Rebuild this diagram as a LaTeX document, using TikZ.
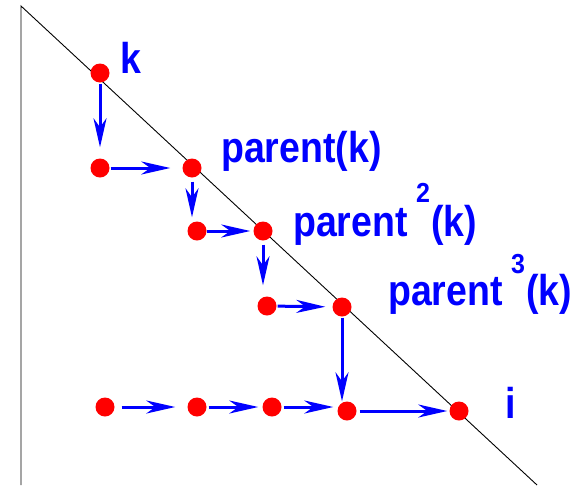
\documentclass[tikz,border=0pt]{standalone}
\usepackage{fontspec}
\usepackage{graphicx}
\setmainfont{Liberation Sans}
\usetikzlibrary{arrows.meta}
\newcommand{\tallbig}[1]{\scalebox{1}[1.15]{\fontsize{37.5pt}{37.5pt}\selectfont\bfseries #1}}
\newcommand{\tallsmall}[1]{\scalebox{1}[1.1]{\fontsize{25pt}{25pt}\selectfont\bfseries #1}}
\begin{document}
\begin{tikzpicture}[x=1pt,y=-1pt,
  dot/.style={circle,fill=red,inner sep=0pt,minimum size=19pt},
  arr/.style={draw=blue,line width=3pt,-{Stealth[length=29pt,width=13pt,inset=9pt]}},
  lbl/.style={anchor=base west,inner sep=0pt,text=blue}]
\useasboundingbox (0,0) rectangle (572,485);
% frame lines
\coordinate (top) at (21,6);
\coordinate (bl) at (21,485);
\coordinate (br) at (537,485);
\draw[black,line width=0.9pt] (bl) -- (top) -- (br);
% dots
\node[dot] (k) at (100,73) {};
\node[dot] (a) at (100,168) {};
\node[dot] (p1) at (192,168) {};
\node[dot] (b) at (197,231) {};
\node[dot] (p2) at (263,231) {};
\node[dot] (c) at (267,306) {};
\node[dot] (p3) at (342,307) {};
\node[dot] (r1) at (105,407) {};
\node[dot] (r2) at (197,407) {};
\node[dot] (r3) at (272,407) {};
\node[dot] (d) at (347,411) {};
\node[dot] (e) at (459,411) {};
% arrows
\draw[arr,shorten <=1pt,shorten >=11pt] (k) -- (a);
\draw[arr,shorten <=1pt,shorten >=12pt] (a) -- (p1);
\draw[arr,shorten <=4pt,shorten >=4pt] (p1.south) -- (p1 |- b.north);
\draw[arr,shorten <=0pt,shorten >=3pt] (b) -- (p2);
\draw[arr,shorten <=4pt,shorten >=11pt] (p2.south) -- (p2.south |- c.north);
\draw[arr,shorten <=1pt,shorten >=7pt] (c) -- (p3);
\draw[arr,shorten <=1pt,shorten >=0pt] (p3.south) -- (p3 |- d.north);
\draw[arr,shorten <=7pt,shorten >=12pt] (r1) -- (r2);
\draw[arr,shorten <=2pt,shorten >=4pt] (r2) -- (r3);
\draw[arr,shorten <=2pt,shorten >=4pt] (r3.east) -- (r3 -| d.west);
\draw[arr,shorten <=3pt,shorten >=2pt] (d) -- (e);
% labels
\node[lbl] (lk) at (120,73) {\tallbig{k}};
\node[lbl] (lp1) at (221,162) {\tallbig{parent(k)}};
\node[lbl] (lp2) at (293,236) {\tallbig{parent}};
\node[lbl] (s2) at (416,202) {\tallsmall{2}};
\node[lbl] (lp2k) at (431,236) {\tallbig{(k)}};
\node[lbl] (lp3) at (388,305) {\tallbig{parent}};
\node[lbl] (s3) at (511,273) {\tallsmall{3}};
\node[lbl] (lp3k) at (526,305) {\tallbig{(k)}};
\node[lbl] (li) at (505,418) {\tallbig{i}};
\end{tikzpicture}
\end{document}
